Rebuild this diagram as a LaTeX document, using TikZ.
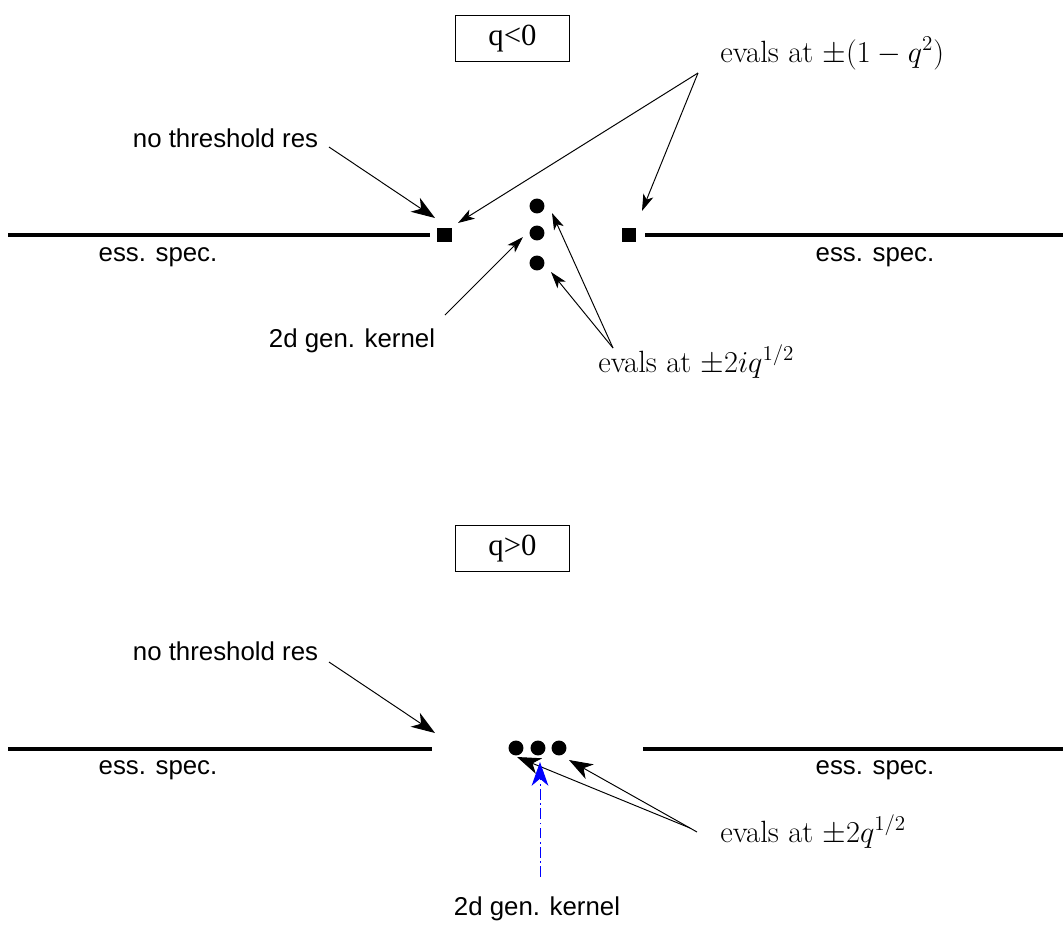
\documentclass[tikz,border=0pt]{standalone}
\usepackage{fontspec}
\newfontfamily\helv{Liberation Sans}
\newfontfamily\tms{Liberation Serif}
\usetikzlibrary{arrows.meta}
\begin{document}
\begin{tikzpicture}[x=0.02cm,y=-0.02cm,
  spec/.style={line width=2.4pt},
  arr/.style={-{Stealth[length=9.5pt,width=6pt,inset=2.5pt]},line width=0.55pt},
  bigarr/.style={-{Stealth[length=13.5pt,width=9.5pt,inset=4pt]},line width=0.55pt},
  sans/.style={font=\helv\fontsize{14.7}{17}\selectfont,inner sep=0pt},
  serif/.style={font=\fontsize{17.5}{21}\selectfont,inner sep=0pt,anchor=base west},
  sq/.style={fill=black,minimum size=8.2pt,inner sep=0pt},
  dot/.style={circle,fill=black,minimum size=8.5pt,inner sep=0pt},
  qbox/.style={draw,line width=0.55pt,minimum width=115*0.5669pt,minimum height=47*0.5669pt,font=\tms\fontsize{17.5}{20}\selectfont}
]
\useasboundingbox (0,0) rectangle (1063,927);
% ---------- top ----------
\node[qbox] (b1) at (512.5,38.5) {q<0};
\coordinate (l1a) at (8,235); \coordinate (l1b) at (430,235);
\coordinate (r1a) at (645,235); \coordinate (r1b) at (1063,235);
\draw[spec] (l1a) -- (l1b);
\draw[spec] (r1a) -- (r1b);
\node[sq] (s1) at (444.5,235) {};
\node[sq] (s2) at (629,235) {};
\node[dot] (d1) at (537,206) {};
\node[dot] (d2) at (537,233) {};
\node[dot] (d3) at (537,263) {};
\node[sans] (nt1) at (225.5,138) {no threshold res};
\node[serif] (ev1) at (720,62) {evals at $\pm(1-q^2)$};
\node[sans] (es1) at (158,257) {ess. spec.};
\node[sans] (es2) at (875,257) {ess. spec.};
\node[sans] (gk1) at (352,341) {2d gen. kernel};
\node[serif] (ev2) at (598,372) {evals at $\pm2iq^{1/2}$};
\coordinate (nt1e) at (329,147);
\coordinate (ev1e) at (698,73);
\coordinate (gk1e) at (445,315);
\coordinate (ev2e) at (613,348);
\draw[bigarr] (nt1e) -- (435,218);
\draw[arr] (ev1e) -- (458,223);
\draw[arr] (ev1e) -- (642,211);
\draw[arr] (gk1e) -- (523,237);
\draw[arr] (ev2e) -- (552,213);
\draw[arr] (ev2e) -- (551,272);
% ---------- bottom ----------
\node[qbox] (b2) at (512.5,548.5) {q>0};
\coordinate (l2a) at (8,749); \coordinate (l2b) at (432,749);
\coordinate (r2a) at (643,749); \coordinate (r2b) at (1063,749);
\draw[spec] (l2a) -- (l2b);
\draw[spec] (r2a) -- (r2b);
\node[dot] (e1) at (516,748) {};
\node[dot] (e2) at (538,748) {};
\node[dot] (e3) at (559,748) {};
\node[sans] (nt2) at (225.5,651) {no threshold res};
\node[sans] (es3) at (158,770) {ess. spec.};
\node[sans] (es4) at (875,770) {ess. spec.};
\node[serif] (ev3) at (720,842) {evals at $\pm2q^{1/2}$};
\node[sans] (gk2) at (537,909) {2d gen. kernel};
\coordinate (nt2e) at (329,662);
\coordinate (ev3a) at (690,828);
\coordinate (ev3b) at (697,832);
\coordinate (gk2e) at (540,877);
\draw[bigarr] (nt2e) -- (435,733);
\draw[bigarr] (ev3a) -- (517,757);
\draw[bigarr] (ev3b) -- (569,760);
\draw[bigarr,blue,dash pattern=on 6pt off 2pt on 1pt off 2pt] (gk2e) -- (540,762);
\end{tikzpicture}
\end{document}
